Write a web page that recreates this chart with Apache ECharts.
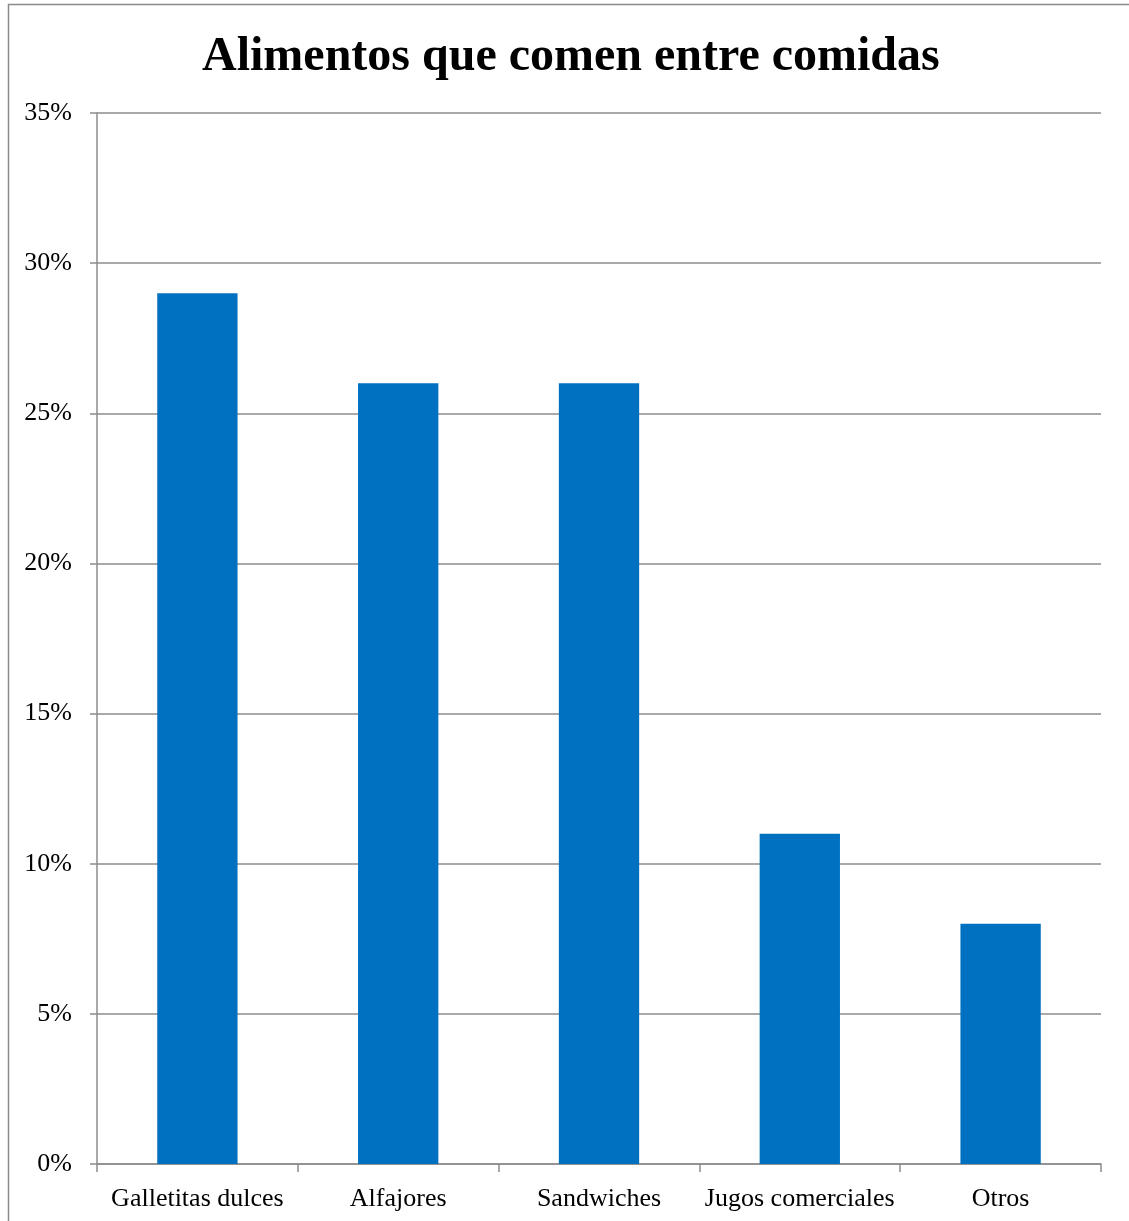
<!DOCTYPE html>
<html>
<head>
<meta charset="utf-8">
<style>
  html, body { margin: 0; padding: 0; background: #fff; }
  #chart { width: 1129px; height: 1221px; }
</style>
<script src="https://cdn.jsdelivr.net/npm/echarts@6/dist/echarts.min.js"></script>
</head>
<body>
<div id="chart"></div>
<script>
const titleText = 'Alimentos que comen entre comidas';
const categories = ['Galletitas dulces', 'Alfajores', 'Sandwiches', 'Jugos comerciales', 'Otros'];
const percentages = [29, 26, 26, 11, 8];
const yTicks = { min: 0, max: 35, step: 5 };

const serif = '"Liberation Serif", "Times New Roman", serif';
const axisGray = '#8c8c8c';

const chart = echarts.init(document.getElementById('chart'), null, { renderer: 'canvas' });
chart.setOption({
  backgroundColor: '#ffffff',
  animation: false,
  title: {
    text: titleText,
    left: 197,
    top: 29,
    padding: [5, 0, 5, 5],
    textStyle: { fontFamily: serif, fontSize: 48, fontWeight: 'bold', color: '#000' }
  },
  graphic: [{
    type: 'rect',
    shape: { x: 8.5, y: 4.5, width: 1200, height: 1300 },
    style: { fill: 'none', stroke: '#8a8a8a', lineWidth: 1.5 },
    silent: true
  }],
  grid: { left: 97, right: 28, top: 113, bottom: 57, containLabel: false },
  xAxis: {
    type: 'category',
    data: categories,
    axisLine: { show: true, lineStyle: { color: axisGray, width: 1.5 } },
    axisTick: { show: true, length: 8, alignWithLabel: false, lineStyle: { color: axisGray, width: 1.5 } },
    axisLabel: { fontFamily: serif, fontSize: 26, color: '#000', margin: 22, interval: 0 },
    splitLine: { show: false }
  },
  yAxis: {
    type: 'value',
    min: yTicks.min,
    max: yTicks.max,
    interval: yTicks.step,
    axisLine: { show: true, lineStyle: { color: axisGray, width: 1.5 } },
    axisTick: { show: true, length: 7, lineStyle: { color: axisGray, width: 1.5 } },
    axisLabel: { fontFamily: serif, fontSize: 26, color: '#000', margin: 25, padding: [4, 0, 0, 0], formatter: '{value}%' },
    splitLine: { show: true, lineStyle: { color: axisGray, width: 1.5 } }
  },
  series: [{
    type: 'bar',
    data: percentages,
    barWidth: '40%',
    itemStyle: { color: '#0070C0' }
  }]
});
</script>
</body>
</html>
